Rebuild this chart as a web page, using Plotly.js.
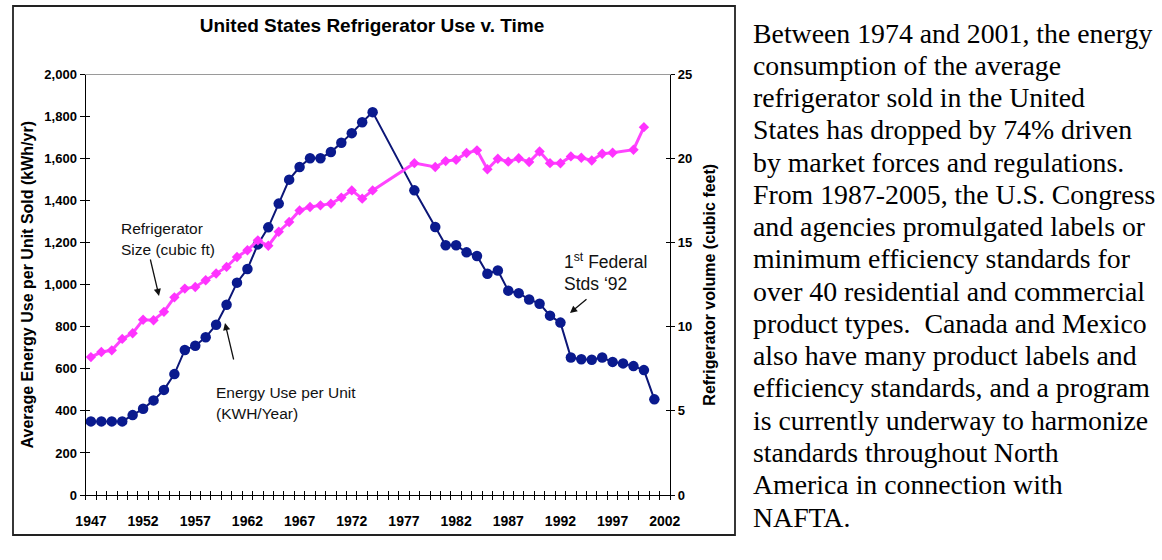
<!DOCTYPE html>
<html>
<head>
<meta charset="utf-8">
<script src="https://cdn.plot.ly/plotly-3.0.1.min.js"></script>
<style>html,body{margin:0;padding:0;background:#fff;}#chart{width:1162px;height:560px;}</style>
</head>
<body>
<div id="chart"></div>
<script>
// ---- data ----
const energyYears = [1947,1948,1949,1950,1951,1952,1953,1954,1955,1956,1957,1958,1959,1960,1961,1962,1963,1964,1965,1966,1967,1968,1969,1970,1971,1972,1973,1974,1978,1980,1981,1982,1983,1984,1985,1986,1987,1988,1989,1990,1991,1992,1993,1994,1995,1996,1997,1998,1999,2000,2001];
const energyUse = [350,350,350,350,380,410,450,500,575,690,710,750,810,905,1010,1075,1192,1273,1386,1500,1560,1602,1602,1631,1675,1721,1773,1821,1449,1275,1188,1188,1154,1137,1052,1068,972,960,930,910,853,820,654,646,643,654,633,626,613,594,455];
const sizeYears = [1947,1948,1949,1950,1951,1952,1953,1954,1955,1956,1957,1958,1959,1960,1961,1962,1963,1964,1965,1966,1967,1968,1969,1970,1971,1972,1973,1974,1978,1980,1981,1982,1983,1984,1985,1986,1987,1988,1989,1990,1991,1992,1993,1994,1995,1996,1997,1999,2000];
const fridgeSize = [8.2,8.5,8.6,9.28,9.62,10.42,10.39,10.89,11.75,12.27,12.37,12.77,13.17,13.56,14.15,14.55,15.14,14.82,15.65,16.23,16.92,17.12,17.22,17.32,17.68,18.11,17.62,18.11,19.73,19.5,19.85,19.93,20.33,20.49,19.37,19.99,19.82,20.02,19.8,20.42,19.73,19.72,20.13,20.05,19.89,20.29,20.35,20.53,21.87];
const xTickYears = [1947,1952,1957,1962,1967,1972,1977,1982,1987,1992,1997,2002];
const leftTicks = [0,200,400,600,800,1000,1200,1400,1600,1800,2000];
const rightTicks = [0,5,10,15,20,25];
const chartTitle = 'United States Refrigerator Use v. Time';
const leftAxisTitle = 'Average Energy Use per Unit Sold (kWh/yr)';
const rightAxisTitle = 'Refrigerator volume (cubic feet)';
const bodyLines = [
  'Between 1974 and 2001, the energy',
  'consumption of the average',
  'refrigerator sold in the United',
  'States has dropped by 74% driven',
  'by market forces and regulations.',
  'From 1987-2005, the U.S. Congress',
  'and agencies promulgated labels or',
  'minimum efficiency standards for',
  'over 40 residential and commercial',
  'product types.\u00A0 Canada and Mexico',
  'also have many product labels and',
  'efficiency standards, and a program',
  'is currently underway to harmonize',
  'standards throughout North',
  'America in connection with',
  'NAFTA.'
];

// ---- layout helpers ----
const W = 1162, H = 560;
const px = v => v / W;
const py = v => 1 - v / H;
const SANS = 'Liberation Sans, Arial, sans-serif';
const XR = [1946.5, 2002.5];
const xDom = [px(85.7), px(670)];
const yDom = [py(495), py(74.5)];
const yTickFont = {family: SANS, size: 13, color: '#000', weight: 'bold'};
const xTickFont = {family: SANS, size: 14, color: '#000', weight: 'bold'};

const traces = [
  {x: energyYears, y: energyUse, type: 'scatter', mode: 'lines+markers', xaxis: 'x', yaxis: 'y',
   line: {color: '#0c1677', width: 2}, marker: {symbol: 'circle', size: 10.5, color: '#0a1a8e'},
   name: 'Energy Use per Unit', showlegend: false, hoverinfo: 'x+y'},
  {x: sizeYears, y: fridgeSize, type: 'scatter', mode: 'lines+markers', xaxis: 'x', yaxis: 'y2',
   line: {color: '#ff44ff', width: 3}, marker: {symbol: 'diamond', size: 8, color: '#ff33ff'},
   name: 'Refrigerator Size', showlegend: false, hoverinfo: 'x+y'},
  // empty helper traces so the overlay axes (cross ticks, top border) are drawn
  {x: [], y: [], type: 'scatter', mode: 'lines', xaxis: 'x2', yaxis: 'y', showlegend: false, hoverinfo: 'skip'},
  {x: [], y: [], type: 'scatter', mode: 'lines', xaxis: 'x3', yaxis: 'y', showlegend: false, hoverinfo: 'skip'},
  {x: [], y: [], type: 'scatter', mode: 'lines', xaxis: 'x', yaxis: 'y3', showlegend: false, hoverinfo: 'skip'},
  {x: [], y: [], type: 'scatter', mode: 'lines', xaxis: 'x', yaxis: 'y4', showlegend: false, hoverinfo: 'skip'}
];

const annotations = [];
function addText(t, x, y, size, opts) {
  annotations.push(Object.assign({text: t, xref: 'paper', yref: 'paper', x: px(x), y: py(y),
    xanchor: 'left', yanchor: 'middle', showarrow: false,
    font: {family: SANS, size: size, color: '#111'}}, opts || {}));
}
function addArrow(tipX, tipY, tailX, tailY) {
  annotations.push({text: '', xref: 'paper', yref: 'paper', x: px(tipX), y: py(tipY),
    ax: tailX - tipX, ay: tailY - tipY, showarrow: true, arrowhead: 2, arrowsize: 1.1,
    arrowwidth: 1.3, arrowcolor: '#111'});
}
addText('Refrigerator', 119, 228, 15.5);
addText('Size (cubic ft)', 119, 250, 15.5);
addArrow(159, 296, 150, 258);
addText('Energy Use per Unit', 214, 392, 15.5);
addText('(KWH/Year)', 214, 413, 15.5);
addArrow(225, 323, 234, 361);
addText('1<sup>st</sup> Federal', 562, 261, 17.5);
addText('Stds \u201892', 562, 284, 17.5);
addArrow(570, 313, 588, 298);
bodyLines.forEach((t, i) => {
  annotations.push({text: t, xref: 'paper', yref: 'paper', x: px(751), y: py(33 + i * 32.27),
    xanchor: 'left', yanchor: 'middle', showarrow: false,
    font: {family: 'Liberation Serif, Times New Roman, serif', size: 27.8, color: '#000'}});
});

const layout = {
  width: W, height: H,
  margin: {l: 0, r: 0, t: 0, b: 0},
  paper_bgcolor: '#fff', plot_bgcolor: 'rgba(0,0,0,0)',
  showlegend: false,
  title: {text: chartTitle, x: px(372), xanchor: 'center', y: py(25), yanchor: 'middle',
          font: {family: SANS, size: 19, color: '#000', weight: 'bold'}},
  xaxis: {domain: xDom, range: XR, anchor: 'y', tickmode: 'array', tickvals: xTickYears,
          ticktext: xTickYears.map(String), ticks: 'outside', ticklen: 13, tickcolor: 'rgba(0,0,0,0)',
          showline: true, linecolor: '#000', linewidth: 1.2, showgrid: false, zeroline: false,
          tickfont: xTickFont,
          minor: {tickmode: 'linear', tick0: 1946.5, dtick: 1, ticks: 'outside', ticklen: 4,
                  tickcolor: '#000', tickwidth: 1, showgrid: false}},
  xaxis2: {overlaying: 'x', anchor: 'y', range: XR, tickmode: 'linear', tick0: 1946.5, dtick: 1,
           ticks: 'inside', ticklen: 4, tickcolor: '#000', showticklabels: false,
           showline: false, showgrid: false, zeroline: false},
  xaxis3: {overlaying: 'x', anchor: 'y', side: 'top', range: XR, showline: true, linecolor: '#9a9a9a',
           linewidth: 1, ticks: '', showticklabels: false, showgrid: false, zeroline: false},
  yaxis: {domain: yDom, range: [0, 2000], anchor: 'x', tickmode: 'array', tickvals: leftTicks,
          tickformat: ',d', ticks: 'outside', ticklen: 5, tickcolor: '#000', showline: true,
          linecolor: '#000', linewidth: 1.2, showgrid: false, zeroline: false, tickfont: yTickFont,
          title: {text: leftAxisTitle, standoff: 6, font: {family: SANS, size: 16, color: '#000', weight: 'bold'}}},
  yaxis3: {overlaying: 'y', anchor: 'x', side: 'left', range: [0, 2000], tickmode: 'array', tickvals: leftTicks,
           ticks: 'inside', ticklen: 4, tickcolor: '#000', showticklabels: false, showline: false,
           showgrid: false, zeroline: false},
  yaxis2: {overlaying: 'y', anchor: 'x', side: 'right', range: [0, 25], tickmode: 'array', tickvals: rightTicks,
           ticks: 'outside', ticklen: 4, tickcolor: '#000', showline: true, linecolor: '#000', linewidth: 1.2,
           showgrid: false, zeroline: false, tickfont: yTickFont,
           title: {text: rightAxisTitle, standoff: 12, font: {family: SANS, size: 16, color: '#000', weight: 'bold'}}},
  yaxis4: {overlaying: 'y', anchor: 'x', side: 'right', range: [0, 25], tickmode: 'array', tickvals: rightTicks,
           ticks: 'inside', ticklen: 4, tickcolor: '#000', showticklabels: false, showline: false,
           showgrid: false, zeroline: false},
  annotations: annotations,
  shapes: [
    {type: 'rect', xref: 'paper', yref: 'paper', x0: px(13), x1: px(735), y0: py(535), y1: py(6),
     line: {color: '#222', width: 1.8}, fillcolor: 'rgba(0,0,0,0)', layer: 'below'}
  ]
};

Plotly.newPlot('chart', traces, layout, {displayModeBar: false, staticPlot: true});
</script>
</body>
</html>
